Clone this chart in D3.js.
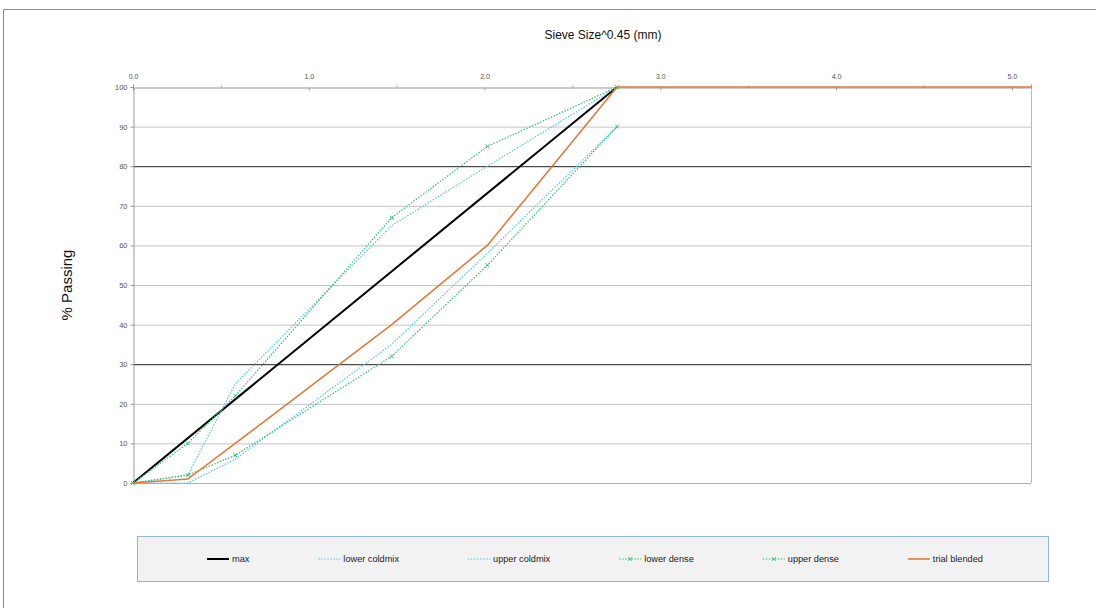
<!DOCTYPE html>
<html lang="en">
<head>
    <meta charset="UTF-8">
    <title>Sieve Size^0.45 - % Passing</title>
    <script src="https://d3js.org/d3.v7.min.js"></script>
    <style>
        body { margin: 0; background: #fff; font-family: "Liberation Sans", Arial, sans-serif; }
        .axis path, .axis line { stroke: #999; }
        .axis text { fill: #555; font-size: 7px; font-family: "Liberation Sans", Arial, sans-serif; }
        .grid line { stroke: #c4c4c4; stroke-width: 1; }
        .grid line.strong { stroke: #222; }
        .legend text { font-size: 9.2px; fill: #222; }
    </style>
</head>
<body>
<svg width="1096" height="608"></svg>
<script>
    // sieve opening (mm) and % passing for each curve
    const sieveMm = [0, 0.075, 0.3, 2.36, 4.75, 9.5, 12.5, 19, 25, 37.5];
    const maxDensity   = [0, null, null, null, null, 100, null, null, null, null];
    const lowerColdmix = [0, 0, 6, 35, 58, 90, null, null, null, null];
    const upperColdmix = [0, 2, 25, 65, 80, 100, null, null, null, null];
    const lowerDense   = [0, 2, 7, 32, 55, 90, null, null, null, null];
    const upperDense   = [0, 10, 22, 67, 85, 100, null, null, null, null];
    const trialBlended = [0, 1, 10, 40, 60, 100, 100, 100, 100, 100];

    const xTicks = [0, 1, 2, 3, 4, 5];
    const xMinorTicks = [0.5, 1.5, 2.5, 3.5, 4.5];
    const yTicks = [0, 10, 20, 30, 40, 50, 60, 70, 80, 90, 100];
    const strongLines = [30, 80];

    const series = [
        { name: "max", values: maxDensity, color: "#000000", width: 2, dash: null, marker: false },
        { name: "lower coldmix", values: lowerColdmix, color: "#4fc3ee", width: 1.2, dash: "1.5,1.5", marker: false },
        { name: "upper coldmix", values: upperColdmix, color: "#4fc3ee", width: 1.2, dash: "1.5,1.5", marker: false },
        { name: "lower dense", values: lowerDense, color: "#2fbf6a", width: 1.2, dash: "1.5,1.5", marker: true },
        { name: "upper dense", values: upperDense, color: "#2fbf6a", width: 1.2, dash: "1.5,1.5", marker: true },
        { name: "trial blended", values: trialBlended, color: "#e07a3c", width: 1.6, dash: null, marker: false }
    ];

    const svg = d3.select("svg");
    const plot = { left: 133, right: 1031, top: 87, bottom: 483 };

    // page frame
    svg.append("path")
        .attr("d", "M3.5,608 L3.5,9.5 L1096,9.5")
        .attr("fill", "none")
        .attr("stroke", "#8a8a8a");

    const x = d3.scaleLinear()
        .domain([0, Math.pow(37.5, 0.45)])
        .range([plot.left, plot.right]);
    const y = d3.scaleLinear()
        .domain([0, 100])
        .range([plot.bottom, plot.top]);

    // horizontal grid
    svg.append("g").attr("class", "grid")
        .selectAll("line")
        .data(yTicks.filter(d => d > 0 && d < 100))
        .enter().append("line")
        .attr("class", d => strongLines.includes(d) ? "strong" : null)
        .attr("x1", plot.left).attr("x2", plot.right)
        .attr("y1", d => y(d) + 0.5).attr("y2", d => y(d) + 0.5);

    // frame lines: bottom + right
    svg.append("line")
        .attr("x1", plot.left).attr("x2", plot.right)
        .attr("y1", y(0) + 0.5).attr("y2", y(0) + 0.5)
        .attr("stroke", "#b0b0b0");
    svg.append("line")
        .attr("x1", plot.right + 0.5).attr("x2", plot.right + 0.5)
        .attr("y1", plot.top).attr("y2", plot.bottom)
        .attr("stroke", "#b8b8b8");

    // top axis
    svg.append("g").attr("class", "axis")
        .attr("transform", `translate(0,${plot.top + 0.5})`)
        .call(d3.axisTop(x).tickValues(xTicks).tickSize(3).tickFormat(d3.format(".1f")))
        .call(g => g.selectAll(".tick line").attr("y2", 3))
        .call(g => g.selectAll(".tick text").attr("dy", "-0.3em"));
    svg.append("g").attr("class", "axis")
        .attr("transform", `translate(0,${plot.top + 0.5})`)
        .call(d3.axisTop(x).tickValues(xMinorTicks).tickSize(2).tickFormat(""))
        .call(g => g.select(".domain").remove());

    // left axis
    svg.append("g").attr("class", "axis")
        .attr("transform", `translate(${plot.left + 0.5},0)`)
        .call(d3.axisLeft(y).tickValues(yTicks).tickSize(3))
        .call(g => g.selectAll(".tick text").style("font-size", "7.5px").attr("fill", "#222"));

    // lines
    const line = d3.line()
        .x(d => x(Math.pow(d[0], 0.45)))
        .y(d => y(d[1]));

    series.forEach(s => {
        const pts = sieveMm.map((m, i) => [m, s.values[i]]).filter(d => d[1] !== null);
        svg.append("path")
            .datum(pts)
            .attr("fill", "none")
            .attr("stroke", s.color)
            .attr("stroke-width", s.width)
            .attr("stroke-dasharray", s.dash)
            .attr("d", line);
        if (s.marker) {
            svg.append("g").selectAll("path")
                .data(pts)
                .enter().append("path")
                .attr("transform", d => `translate(${x(Math.pow(d[0], 0.45))},${y(d[1])})`)
                .attr("d", "M-2,-2L2,2M-2,2L2,-2")
                .attr("stroke", s.color)
                .attr("stroke-width", 0.9);
        }
    });

    // titles
    svg.append("text")
        .attr("x", 603).attr("y", 39)
        .attr("text-anchor", "middle")
        .style("font-size", "12px").attr("fill", "#111")
        .text("Sieve Size^0.45 (mm)");
    svg.append("text")
        .attr("transform", "translate(72,285) rotate(-90)")
        .attr("text-anchor", "middle")
        .style("font-size", "15px").attr("fill", "#111")
        .text("% Passing");

    // legend
    const legend = svg.append("g").attr("class", "legend");
    legend.append("rect")
        .attr("x", 137.5).attr("y", 536.5)
        .attr("width", 911).attr("height", 45)
        .attr("fill", "#f2f2f2")
        .attr("stroke", "#8ab8e0");

    let lx = 207;
    const ly = 559;
    series.forEach(s => {
        const item = legend.append("g").attr("transform", `translate(${lx},${ly})`);
        item.append("line")
            .attr("x1", 0).attr("x2", 22)
            .attr("stroke", s.color)
            .attr("stroke-width", s.width)
            .attr("stroke-dasharray", s.dash);
        if (s.marker) {
            item.append("path")
                .attr("d", "M9,-2L13,2M9,2L13,-2")
                .attr("stroke", s.color)
                .attr("stroke-width", 0.9);
        }
        const t = item.append("text")
            .attr("x", 25).attr("dy", "0.35em")
            .text(s.name);
        lx += 25 + t.node().getComputedTextLength() + 69;
    });
</script>
</body>
</html>
